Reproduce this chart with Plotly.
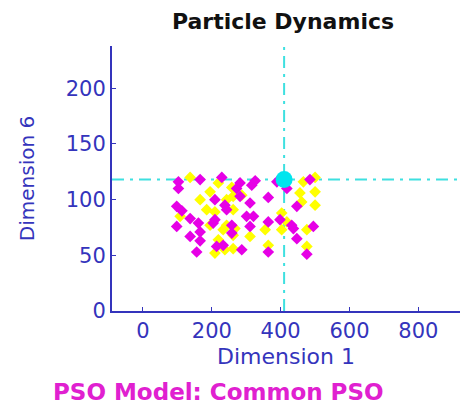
import plotly.graph_objects as go

# ---- data ----
magenta_x = [103, 103, 166, 229, 282, 272, 316, 326, 389, 418, 485, 209, 282, 364, 311,
             98, 113, 238, 243, 447, 137, 161, 209, 204, 98, 258, 301, 321, 311, 364,
             398, 432, 437, 495, 166, 137, 166, 258, 447, 214, 233, 156, 287, 364, 476]
magenta_y = [116, 110, 118, 120, 115, 110, 113, 117, 116, 110, 118, 100, 103, 102, 97,
             94, 90, 95, 91, 94, 83, 79, 82, 79, 76, 77, 85, 85, 76, 80,
             82, 77, 74, 76, 71, 67, 63, 70, 65, 58, 59, 53, 55, 53, 51]
yellow_x = [137, 219, 195, 258, 262, 166, 243, 185, 209, 262, 108, 195, 233, 243, 267,
            262, 219, 209, 238, 262, 311, 355, 364, 403, 403, 456, 461, 500, 500, 466,
            500, 476, 476, 418, 287]
yellow_y = [120, 115, 107, 111, 103, 100, 100, 91, 89, 91, 85, 77, 73, 77, 74,
            68, 64, 52, 55, 56, 67, 73, 59, 88, 73, 106, 98, 107, 95, 116,
            120, 73, 58, 80, 104]
best = [410, 118]

x_range = [-90, 921]
y_range = [0, 238]
x_ticks = [0, 200, 400, 600, 800]
y_ticks = [0, 50, 100, 150, 200]

axis_blue = "#3434bc"
cyan = "#3ee0e0"
font_fam = "DejaVu Sans, Arial, sans-serif"

fig = go.Figure()

# crosshair lines through best position
fig.add_trace(go.Scatter(x=[best[0], best[0]], y=y_range, mode="lines",
                         line=dict(color=cyan, width=2, dash="12px,6px,3px,6px"),
                         hoverinfo="skip", showlegend=False))
fig.add_trace(go.Scatter(x=x_range, y=[best[1], best[1]], mode="lines",
                         line=dict(color=cyan, width=2, dash="12px,6px,3px,6px"),
                         hoverinfo="skip", showlegend=False))

fig.add_trace(go.Scatter(x=yellow_x, y=yellow_y, mode="markers",
                         marker=dict(symbol="diamond", size=9, color="#ffff00"),
                         showlegend=False))
fig.add_trace(go.Scatter(x=magenta_x, y=magenta_y, mode="markers",
                         marker=dict(symbol="diamond", size=9, color="#e600e6"),
                         showlegend=False))
fig.add_trace(go.Scatter(x=[best[0]], y=[best[1]], mode="markers",
                         marker=dict(symbol="circle", size=17, color="#00e5ee"),
                         showlegend=False))

fig.update_layout(
    width=460, height=410,
    margin=dict(l=112, r=0, t=46, b=99),
    paper_bgcolor="white", plot_bgcolor="white",
    title=dict(text="<b>Particle Dynamics</b>", x=283 / 460, xanchor="center",
               y=1 - 21 / 410, yanchor="middle",
               font=dict(family=font_fam, size=22, color="#111111")),
    xaxis=dict(range=x_range, tickvals=x_ticks, showgrid=False, zeroline=False,
               showline=True, linecolor=axis_blue, linewidth=2,
               ticks="inside", ticklen=4, tickcolor=axis_blue,
               tickfont=dict(family=font_fam, size=21, color=axis_blue),
               title=dict(text="Dimension 1", standoff=6,
                          font=dict(family=font_fam, size=22, color=axis_blue))),
    yaxis=dict(range=y_range, tickvals=y_ticks, showgrid=False, zeroline=False,
               showline=True, linecolor=axis_blue, linewidth=2,
               ticks="inside", ticklen=4, tickcolor=axis_blue,
               tickfont=dict(family=font_fam, size=21, color=axis_blue),
               title=dict(text="Dimension 6", standoff=26,
                          font=dict(family=font_fam, size=20, color=axis_blue))),
    annotations=[dict(text="<b>PSO Model: Common PSO</b>", xref="paper", yref="paper",
                      x=(218 - 112) / 348, y=(311 - 392) / 265, xanchor="center",
                      yanchor="middle", showarrow=False,
                      font=dict(family=font_fam, size=23, color="#e020d0"))],
)

fig.write_html("out.html")
